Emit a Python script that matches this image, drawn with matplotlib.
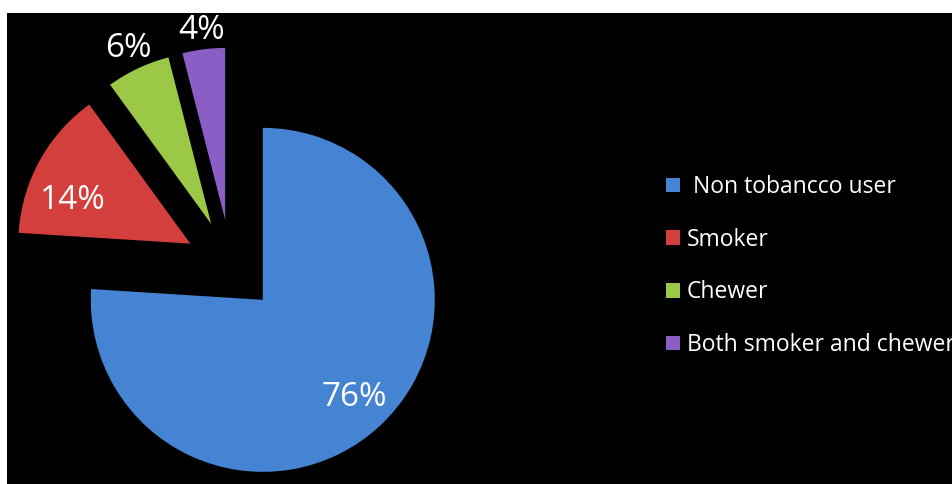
import numpy as np
import matplotlib.pyplot as plt

categorias = [" Non tobancco user", "Smoker", "Chewer", "Both smoker and chewer"]
valores = [76, 14, 6, 4]
colores = ["#4583D3", "#D23F3C", "#9BC846", "#8A5EC4"]
separacion = [0.27, 0.27, 0.27, 0.27]
dist_pct = [0.78, 0.73, 1.13, 1.11]
giro_pct = [0, 8.5, 0, 0]   # grados extra para mover la etiqueta

plt.rcParams['font.family'] = ['Open Sans', 'DejaVu Sans']

W, H = 953, 484
fig = plt.figure(figsize=(W / 100, H / 100), dpi=100, facecolor="white")
# zona negra: desde x=7 hasta el borde, y desde 13 px por debajo del borde superior
ax = fig.add_axes([7 / W, 0, (W - 7) / W, (H - 13) / H])
ax.set_facecolor("black")

escala = 172.0          # px por unidad de radio
cx, cy = 224.0, 218.0   # centro del pastel en px dentro del eje
ax_w, ax_h = W - 7, H - 13

wedges, _, textos = ax.pie(valores, colors=colores, explode=separacion,
                           startangle=90, counterclock=False, radius=1.0,
                           autopct="%1.0f%%", frame=True,
                           wedgeprops=dict(linewidth=0),
                           textprops=dict(color="white", fontsize=24))

# reubicar porcentajes (los pequeños van fuera)
for w, t, d, g in zip(wedges, textos, dist_pct, giro_pct):
    ang = np.deg2rad((w.theta1 + w.theta2) / 2 + g)
    x0, y0 = w.center
    t.set_position((x0 + d * w.r * np.cos(ang), y0 + d * w.r * np.sin(ang)))

ax.set_xlim(-cx / escala, (ax_w - cx) / escala)
ax.set_ylim(-cy / escala, (ax_h - cy) / escala)
ax.set_aspect("auto")
ax.set_xticks([])
ax.set_yticks([])
for s in ax.spines.values():
    s.set_visible(False)

leg = ax.legend(wedges, categorias, loc="upper left",
                bbox_to_anchor=((657 - 7) / ax_w, (H - 166) / ax_h),
                frameon=False, fontsize=16.5, labelcolor="white",
                handlelength=0.6, handleheight=0.6, handletextpad=0.3,
                labelspacing=1.25, borderaxespad=0)

fig.savefig("out.png", dpi=100, facecolor="white")
